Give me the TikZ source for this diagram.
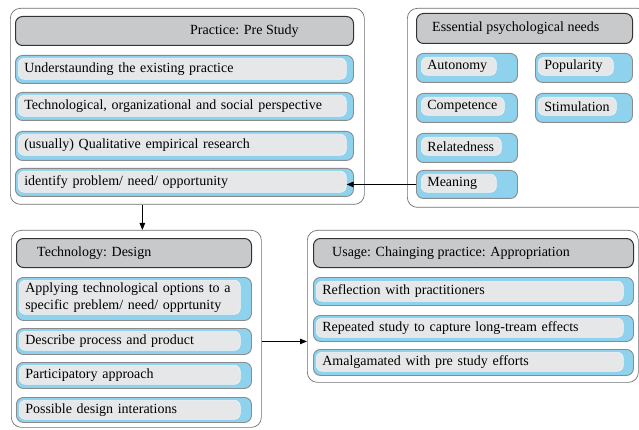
\documentclass[tikz,border=0pt]{standalone}
\usepackage{fontspec}
\setmainfont{Liberation Serif}
\usetikzlibrary{arrows.meta}
\definecolor{bandblue}{HTML}{8ED2EE}
\definecolor{pillgray}{HTML}{E6E7E8}
\definecolor{headgray}{HTML}{C8C9CB}
\definecolor{bordergray}{HTML}{8A8B8D}
\definecolor{framegray}{HTML}{6D6E71}

\begin{document}
\begin{tikzpicture}[x=1pt,y=-1pt,
frame/.style={draw=framegray, line width=0.7pt, rounded corners=10pt, anchor=north west, inner sep=0pt},
head/.style={draw=black!80, fill=headgray, line width=1pt, rounded corners=7pt, anchor=north west, inner sep=0pt, minimum height=29},
headtext/.style={anchor=west, inner sep=0pt, font=\fontsize{14}{17}\selectfont},
band/.style={draw=bordergray, fill=bandblue, line width=0.9pt, rounded corners=7pt, anchor=north west, inner sep=0pt},
pill/.style={draw=white!55!pillgray, fill=pillgray, line width=0.6pt, rounded corners=6pt, anchor=north west, inner xsep=6pt, inner ysep=1pt, minimum height=21, align=left, font=\fontsize{14}{17}\selectfont},
needpill/.style={pill, text width=63, minimum height=18},
arr/.style={-{Triangle[length=7pt,width=5.5pt]}, line width=0.8pt}]
\clip (0,0) rectangle (639,430);

% practice: pre study
\node[frame, minimum width=354, minimum height=196] (pre) at (10,8) {};
\node[head, minimum width=338] (prehd) at (15,16) {};
\node[headtext] (prehdt) at ([xshift=175pt]prehd.west) {Practice: Pre Study};
\node[band, minimum width=338, minimum height=28] (pre1) at (15,55) {};
\node[pill, text width=316] (pre1t) at ([shift={(3pt,-3pt)}]pre1.north west) {Understaunding the existing practice};
\node[band, minimum width=338, minimum height=28] (pre2) at (15,92) {};
\node[pill, text width=316] (pre2t) at ([shift={(3pt,-3pt)}]pre2.north west) {Technological, organizational and social perspective};
\node[band, minimum width=338, minimum height=29] (pre3) at (15,131) {};
\node[pill, text width=316] (pre3t) at ([shift={(3pt,-3pt)}]pre3.north west) {(usually) Qualitative empirical research};
\node[band, minimum width=338, minimum height=28] (pre4) at (15,168) {};
\node[pill, text width=316] (pre4t) at ([shift={(3pt,-3pt)}]pre4.north west) {identify problem/ need/ opportunity};

% essential psychological needs
\node[frame, minimum width=241, minimum height=199] (needs) at (407,8) {};
\node[head, minimum width=216, minimum height=30] (needshd) at (416,13) {};
\node[headtext] (needshdt) at ([xshift=16pt]needshd.west) {Essential psychological needs};
\node[band, minimum width=101, minimum height=29] (auto) at (416,53) {};
\node[needpill] (autot) at ([shift={(5pt,-4pt)}]auto.north west) {Autonomy};
\node[band, minimum width=97, minimum height=29] (pop) at (535,53) {};
\node[needpill] (popt) at ([shift={(3pt,-4pt)}]pop.north west) {Popularity};
\node[band, minimum width=101, minimum height=29] (comp) at (416,93) {};
\node[needpill, text width=71] (compt) at ([shift={(5pt,-4pt)}]comp.north west) {Competence};
\node[band, minimum width=97, minimum height=29] (stim) at (535,93) {};
\node[needpill, text width=66] (stimt) at ([shift={(3pt,-4pt)}]stim.north west) {Stimulation};
\node[band, minimum width=101, minimum height=29] (rel) at (416,133) {};
\node[needpill, text width=68] (relt) at ([shift={(5pt,-4pt)}]rel.north west) {Relatedness};
\node[band, minimum width=101, minimum height=28] (mean) at (416,170) {};
\node[needpill] (meant) at ([shift={(5pt,-4pt)}]mean.north west) {Meaning};

% technology: design
\node[frame, minimum width=250, minimum height=197] (des) at (11,230) {};
\node[head, minimum width=235] (deshd) at (16,238) {};
\node[headtext] (deshdt) at ([xshift=21pt]deshd.west) {Technology: Design};
\node[band, minimum width=235, minimum height=43] (des1) at (16,277) {};
\node[pill, text width=209, minimum height=34] (des1t) at ([shift={(3pt,-3pt)}]des1.north west) {Applying technological options to a\\specific preblem/ need/ opprtunity};
\node[band, minimum width=235, minimum height=26] (des2) at (16,328) {};
\node[pill, text width=209, minimum height=19] (des2t) at ([shift={(3pt,-3pt)}]des2.north west) {Describe process and product};
\node[band, minimum width=235, minimum height=26] (des3) at (16,362) {};
\node[pill, text width=209, minimum height=19] (des3t) at ([shift={(3pt,-3pt)}]des3.north west) {Participatory approach};
\node[band, minimum width=235, minimum height=25] (des4) at (16,397) {};
\node[pill, text width=209, minimum height=19] (des4t) at ([shift={(3pt,-3pt)}]des4.north west) {Possible design interations};

% usage: changing practice
\node[frame, minimum width=331, minimum height=152] (use) at (307,230) {};
\node[head, minimum width=320] (usehd) at (313,238) {};
\node[headtext] (usehdt) at ([xshift=19pt]usehd.west) {Usage: Chainging practice: Appropriation};
\node[band, minimum width=320, minimum height=28] (use1) at (313,277) {};
\node[pill, text width=295, minimum height=20] (use1t) at ([shift={(3pt,-4pt)}]use1.north west) {Reflection with practitioners};
\node[band, minimum width=320, minimum height=26] (use2) at (313,315) {};
\node[pill, text width=295, minimum height=19] (use2t) at ([shift={(3pt,-3pt)}]use2.north west) {Repeated study to capture long-tream effects};
\node[band, minimum width=320, minimum height=26] (use3) at (313,349) {};
\node[pill, text width=295, minimum height=19] (use3t) at ([shift={(3pt,-3pt)}]use3.north west) {Amalgamated with pre study efforts};

% connectors
\coordinate (down) at ([xshift=6pt]des.north);
\draw[arr] (down |- pre.south) -- (down);
\draw[arr] (mean.west) -- (pre4t.east |- mean.west);
\draw[arr] (des.east |- des2.west) -- (use.west |- des2.west);
\end{tikzpicture}
\end{document}
